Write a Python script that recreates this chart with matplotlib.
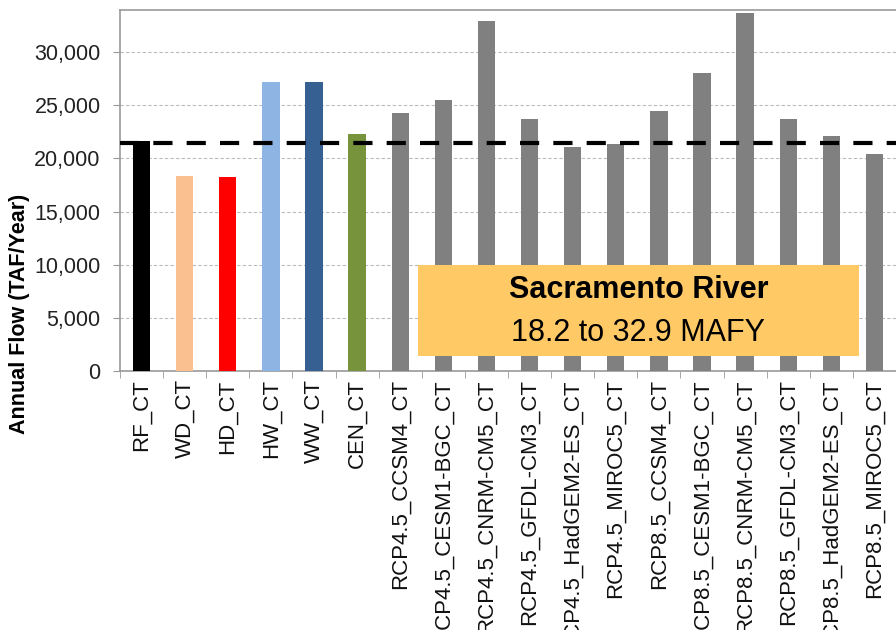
import matplotlib.pyplot as plt
from matplotlib.patches import Rectangle
import numpy as np

plt.rcParams['font.family'] = ['Liberation Sans', 'DejaVu Sans']

# scenario names and annual flows (TAF/yr)
scenarios = ['RF_CT', 'WD_CT', 'HD_CT', 'HW_CT', 'WW_CT', 'CEN_CT',
             'RCP4.5_CCSM4_CT', 'RCP4.5_CESM1-BGC_CT', 'RCP4.5_CNRM-CM5_CT',
             'RCP4.5_GFDL-CM3_CT', 'RCP4.5_HadGEM2-ES_CT', 'RCP4.5_MIROC5_CT',
             'RCP8.5_CCSM4_CT', 'RCP8.5_CESM1-BGC_CT', 'RCP8.5_CNRM-CM5_CT',
             'RCP8.5_GFDL-CM3_CT', 'RCP8.5_HadGEM2-ES_CT', 'RCP8.5_MIROC5_CT']
flows = [21600, 18300, 18200, 27200, 27150, 22250,
         24300, 25500, 32900, 23700, 21100, 21350,
         24450, 28050, 33700, 23700, 22100, 20400]
reference_flow = 21400

bar_colors = ['#000000', '#FAC090', '#FF0000', '#8EB4E3', '#376092', '#77933C'] + ['#808080'] * 12

fig = plt.figure(figsize=(8.96, 6.3), dpi=100)
ax = fig.add_axes([120/896, 259/630, 776/896, 361/630])

x = np.arange(len(scenarios))
ax.bar(x, flows, width=0.4, color=bar_colors, zorder=3)
ax.axhline(reference_flow, color='black', lw=3, dashes=(4.6, 3.4), zorder=4)

ax.set_xlim(-0.5, len(scenarios) - 0.5)
ax.set_ylim(0, 33950)
ax.set_yticks(np.arange(0, 30001, 5000))
ax.set_yticklabels([f'{v:,}' for v in range(0, 30001, 5000)], fontsize=15.5, color='#222222')
ax.yaxis.grid(True, color='#BBBBBB', ls=(0, (3, 2)), lw=0.8)
ax.set_axisbelow(True)

ax.set_xticks(x)
ax.set_xticklabels(scenarios, rotation=90, fontsize=16, color='#111111')
ax.set_xticks(np.arange(-0.5, len(scenarios), 1), minor=True)
ax.tick_params(axis='x', which='major', length=0, pad=6)
ax.tick_params(axis='x', which='minor', length=5, color='#999999')
ax.tick_params(axis='y', length=5, color='#999999', pad=9)

for side in ['left', 'bottom', 'top']:
    ax.spines[side].set_color('#999999')
    ax.spines[side].set_linewidth(1.2)
ax.spines['right'].set_visible(False)

fig.text(20/896, 1 - 314/630, 'Annual Flow (TAF/Year)', rotation=90,
         ha='center', va='center', fontsize=15.5, fontweight='bold')

# range callout box
ax.add_patch(Rectangle((0.384, 0.042), 0.568, 0.252, transform=ax.transAxes,
                       facecolor='#FFC966', edgecolor='none', zorder=5))
ax.text(0.668, 0.224, 'Sacramento River', transform=ax.transAxes, ha='center',
        va='center', fontsize=22, fontweight='bold', zorder=6)
ax.text(0.668, 0.105, '18.2 to 32.9 MAFY', transform=ax.transAxes, ha='center',
        va='center', fontsize=22, zorder=6)

fig.savefig('out.png', dpi=100)
